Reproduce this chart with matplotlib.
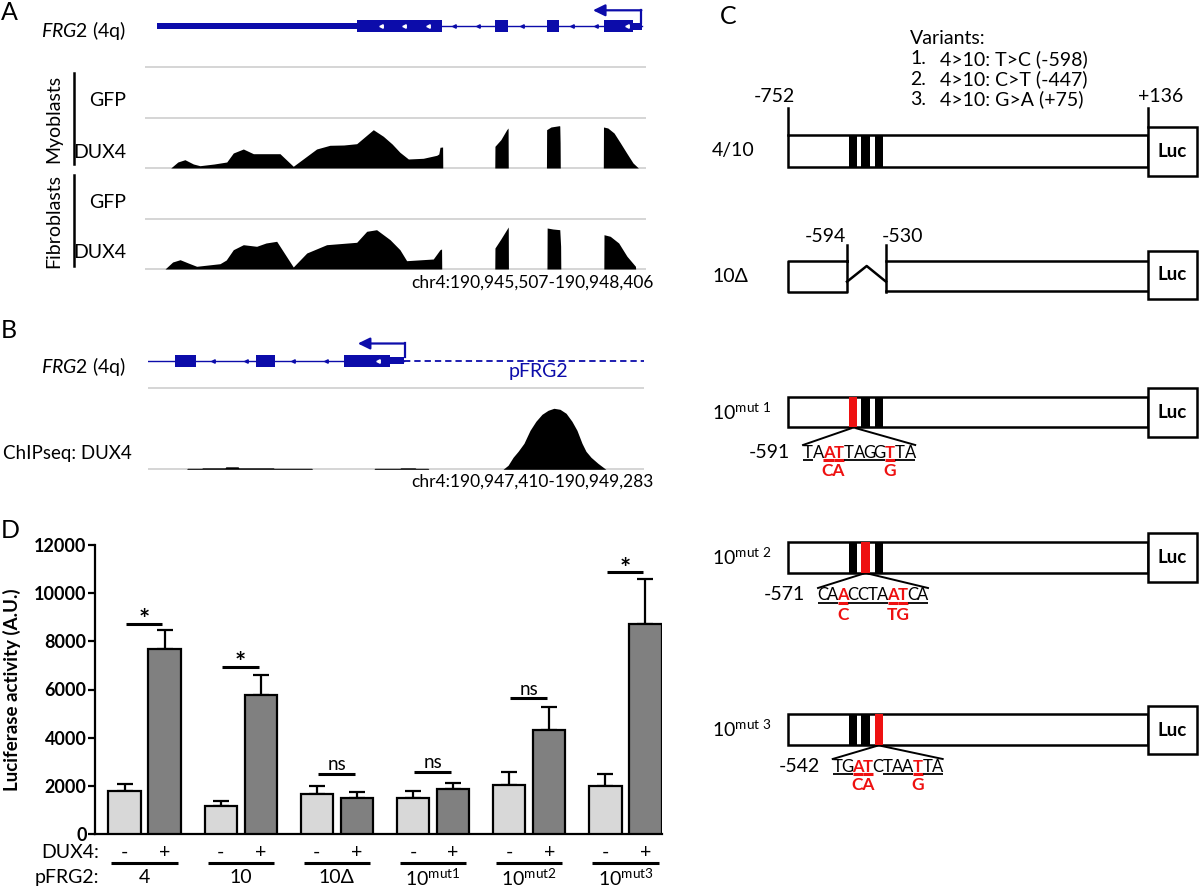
import numpy as np
import matplotlib
matplotlib.use("Agg")
import matplotlib.pyplot as plt
from matplotlib.patches import Rectangle

plt.rcParams['font.family'] = ['Lato', 'DejaVu Sans']
plt.rcParams['mathtext.fontset'] = 'custom'
plt.rcParams['mathtext.rm'] = 'Lato'
plt.rcParams['mathtext.it'] = 'Lato:italic'
plt.rcParams['mathtext.bf'] = 'Lato:bold'

# =========================
# DATA
# =========================

# panel A: FRG2 gene model, bp offsets inside chr4:190,945,507-190,948,406
a_region = 'chr4:190,945,507-190,948,406'
a_window = 2899
a_utr3 = (68, 1227)
a_exons = [(1227, 1718), (2025, 2100), (2326, 2395), (2656, 2824)]
a_utr5 = (2824, 2876)
a_tss = 2872
a_arrow_tip = 2592
a_intron_marks = [1788, 1927, 2181, 2471, 2607]
a_exon_marks = [1365, 1499, 1637, 2789]

# RNA-seq coverage, DUX4 samples (GFP samples are flat)
myo_x = [149, 190, 231, 280, 318, 400, 473, 511, 569, 627, 700, 781, 858, 936, 993,
         1070, 1150, 1225, 1321, 1379, 1430, 1475, 1524, 1610, 1688, 1700, 1707, 1722, 1723,
         2024, 2025, 2059, 2093, 2101, 2102,
         2323, 2324, 2349, 2397, 2400, 2402, 2403,
         2652, 2653, 2678, 2714, 2751, 2787, 2824, 2855]
myo_y = [0, 6, 8.3, 4, 2.3, 4, 6, 15, 19, 14.3, 14.3, 14.3, 1.7, 11.7, 19,
         22.7, 23, 24.3, 38.3, 31.7, 24, 15.7, 9, 9.7, 12.7, 14, 20.7, 21, 0,
         0, 21.7, 28.3, 38.3, 40, 0,
         0, 38.3, 41, 42.3, 42, 25, 0,
         0, 41, 40, 35, 25, 15, 5, 0]
fib_x = [116, 160, 203, 250, 299, 434, 470, 511, 569, 646, 700, 762, 858, 936, 1051,
         1225, 1283, 1340, 1418, 1475, 1514, 1668, 1707, 1716, 1717,
         2024, 2025, 2059, 2102, 2103,
         2326, 2327, 2360, 2400, 2405, 2406,
         2655, 2656, 2692, 2741, 2789, 2838, 2839]
fib_y = [0, 7, 9.3, 6, 2.7, 5.3, 9, 19.3, 24.3, 22.7, 26, 27.7, 2, 16, 24.3,
         26.7, 37.7, 39.3, 29.3, 19.3, 8.3, 10, 19.3, 20, 0,
         0, 21, 30, 42, 0,
         0, 41, 40, 39.3, 22.7, 0,
         0, 34.3, 32.7, 26, 12.7, 2.7, 0]

# panel B: FRG2 promoter region, bp offsets inside chr4:190,947,410-190,949,283
b_region = 'chr4:190,947,410-190,949,283'
b_window = 1873
b_exons = [(103, 181), (408, 480), (741, 915)]
b_utr5 = (915, 967)
b_tss = 970
b_arrow_tip = 793
b_intron_marks = [246, 370, 547, 673]
b_exon_marks = [870]

chip_x = [147, 150, 204, 207, 292, 295, 341, 344, 474, 477, 619, 622,
          854, 857, 952, 955, 1009, 1012, 1058, 1061,
          1341, 1360, 1379, 1398, 1420, 1443, 1465, 1488, 1511, 1533,
          1556, 1579, 1601, 1620, 1639, 1654, 1673, 1699, 1729]
chip_y = [0, 1, 1, 1.5, 1.5, 2.5, 2.5, 1.5, 1.5, 1, 1, 0,
          0, 1, 1, 1.5, 1.5, 1, 1, 0,
          0, 4, 12, 18, 26, 39, 48, 55, 59, 61,
          60, 56, 48, 39, 26, 18, 12, 6, 0]

# panel C: reporter constructs
variants = ['4>10: T>C (-598)', '4>10: C>T (-447)', '4>10: G>A (+75)']
construct_labels = ['4/10', '10Δ', r'10$^{\mathrm{mut\ 1}}$',
                    r'10$^{\mathrm{mut\ 2}}$', r'10$^{\mathrm{mut\ 3}}$']
mutated_site = [None, None, 0, 1, 2]
promoter_ends = ['-752', '+136']
deletion_ends = ['-594', '-530']
site_seqs = ['TAATTAGGTTA', 'CAACCTAATCA', 'TGATCTAATTA']
site_starts = ['-591', '-571', '-542']
site_red = [[2, 3, 8], [2, 7, 8], [2, 3, 8]]
site_no_line = [[1], [], [4]]
site_subs = [[('CA', 2.5), ('G', 8)], [('C', 2), ('TG', 7.5)], [('CA', 2.5), ('G', 8)]]

# panel D: luciferase assay
groups = ['4', '10', '10Δ', r'10$^{\mathrm{mut1}}$', r'10$^{\mathrm{mut2}}$', r'10$^{\mathrm{mut3}}$']
neg_mean = [1780, 1180, 1680, 1500, 2050, 2000]
neg_err = [290, 210, 300, 270, 510, 500]
pos_mean = [7700, 5780, 1480, 1870, 4330, 8700]
pos_err = [760, 830, 250, 240, 950, 1880]
sig = ['*', '*', 'ns', 'ns', 'ns', '*']
sig_y = [8720, 6950, 2490, 2570, 5640, 10860]

# =========================
# FIGURE
# =========================

W, H = 1200, 891
BLUE = '#0c0caa'
RED = '#ee1111'
GRID = '#d2d2d2'
FS = 14

fig = plt.figure(figsize=(12, 8.91), dpi=100)


def px_axes(x0, y0, x1, y1):
    ax = fig.add_axes([x0 / W, 1 - y1 / H, (x1 - x0) / W, (y1 - y0) / H])
    return ax


ax0 = px_axes(0, 0, W, H)
ax0.set_xlim(0, W)
ax0.set_ylim(H, 0)
ax0.axis('off')

for lab, x, y in [('A', 9, 12), ('B', 9, 331), ('C', 728, 16), ('D', 10, 531)]:
    ax0.text(x, y, lab, fontsize=18, ha='center', va='center')


def gene_model(ax, exons, utr5, tss, tip, intron_marks, exon_marks, top):
    ax.broken_barh([(s, e - s) for s, e in exons], (-6, 12), color=BLUE, lw=0)
    ax.broken_barh([(utr5[0], utr5[1] - utr5[0])], (-3.5, 7), color=BLUE, lw=0)
    ax.plot(intron_marks, [0] * len(intron_marks), ls='none', marker='<', ms=2.5, color=BLUE)
    ax.plot(exon_marks, [0] * len(exon_marks), ls='none', marker='<', ms=2.5, color='white')
    ax.plot([tss, tss], [-3.5, top], color=BLUE, lw=1.6, solid_capstyle='projecting')
    ax.annotate('', xy=(tip, top), xytext=(tss, top),
                arrowprops=dict(arrowstyle='-|>,head_length=0.45,head_width=0.22',
                                mutation_scale=16, color=BLUE, lw=1.6,
                                shrinkA=0, shrinkB=0))


# ---------- panel A ----------
ga = px_axes(145, 6.3, 646, 46.3)
ga.set_xlim(0, a_window)
ga.set_ylim(20, -20)
ga.axis('off')
ga.plot([a_exons[0][1], a_utr5[1]], [0, 0], color=BLUE, lw=1)
ga.broken_barh([(a_utr3[0], a_utr3[1] - a_utr3[0])], (-3, 6), color=BLUE, lw=0)
gene_model(ga, a_exons, a_utr5, a_tss, a_arrow_tip, a_intron_marks, a_exon_marks, -16)

ax0.hlines([67, 118, 168, 219, 269], 145, 646, color=GRID, lw=1.3)
for (y0, y1), xs, ys in [((118, 168), myo_x, myo_y), ((219, 269), fib_x, fib_y)]:
    tr = px_axes(145, y0, 646, y1)
    tr.set_xlim(0, a_window)
    tr.set_ylim(0, 50)
    tr.axis('off')
    tr.fill_between(xs, ys, color='black', lw=0)

ax0.text(126, 30, r'$\mathit{FRG2}$ (4q)', ha='right', va='center', fontsize=FS)
for lab, y in [('GFP', 101), ('DUX4', 152), ('GFP', 203), ('DUX4', 253)]:
    ax0.text(126, y, lab, ha='right', va='center', fontsize=FS)
for lab, (y0, y1) in [('Myoblasts', (73, 164)), ('Fibroblasts', (175, 266))]:
    ax0.plot([73.7, 73.7], [y0, y1], color='black', lw=1.8)
    ax0.text(54, (y0 + y1) / 2, lab, rotation=90, ha='center', va='center', fontsize=FS)
ax0.text(654, 283, a_region, ha='right', va='center', fontsize=12.5)

# ---------- panel B ----------
gb = px_axes(147.7, 341, 644, 381)
gb.set_xlim(0, b_window)
gb.set_ylim(20, -20)
gb.axis('off')
gb.plot([0, b_utr5[1]], [0, 0], color=BLUE, lw=1)
gb.plot([b_utr5[1], b_window], [0, 0], color=BLUE, lw=1.3, dashes=(3.5, 2.2))
gene_model(gb, b_exons, b_utr5, b_tss, b_arrow_tip, b_intron_marks, b_exon_marks, -17.5)
ax0.text(538, 371, 'pFRG2', color=BLUE, ha='center', va='center', fontsize=FS)

ax0.hlines([387.7, 469.3], 147.7, 644, color=GRID, lw=1.3)
cb = px_axes(147.7, 388, 644, 469.3)
cb.set_xlim(0, b_window)
cb.set_ylim(0, 81.3)
cb.axis('off')
cb.fill_between(chip_x, chip_y, color='black', lw=0)

ax0.text(126, 367, r'$\mathit{FRG2}$ (4q)', ha='right', va='center', fontsize=FS)
ax0.text(3, 453, 'ChIPseq: DUX4', ha='left', va='center', fontsize=13.5)
ax0.text(654, 482, b_region, ha='right', va='center', fontsize=12.5)

# ---------- panel C ----------
box_x0, box_x1, luc_x1 = 788, 1148, 1197
row_box = [(135, 166.7), (261, 292), (397, 427.3), (541.7, 572.7), (714, 745)]
row_luc = [(127, 176), (250.7, 299.3), (388, 437), (533, 582), (706, 754)]
site_x = [(849.3, 857.3), (861.3, 869.5), (874.5, 882.7)]
LW = 1.8

ax0.text(910, 38, 'Variants:', ha='left', va='center', fontsize=FS)
for k, v in enumerate(variants):
    ax0.text(910, 59 + 20.3 * k, f'{k + 1}.', ha='left', va='center', fontsize=FS)
    ax0.text(940, 59 + 20.3 * k, v, ha='left', va='center', fontsize=FS)

for i, lab in enumerate(construct_labels):
    yt, yb = row_box[i]
    lt, lb = row_luc[i]
    ax0.text(712, (yt + yb) / 2, lab, ha='left', va='center', fontsize=FS)
    ax0.add_patch(Rectangle((box_x1, lt), luc_x1 - box_x1, lb - lt, fc='white',
                            ec='black', lw=LW, zorder=3))
    ax0.text((box_x1 + luc_x1) / 2, (lt + lb) / 2, 'Luc', ha='center', va='center',
             fontsize=13.5, fontweight='bold', zorder=4)
    if i == 1:
        # deletion construct
        ax0.plot([847, 788, 788, 847, 847], [yt, yt, yb, yb, 245], color='black', lw=LW)
        ax0.plot([847, 866.7, 886], [281.7, 266, 281.7], color='black', lw=LW)
        ax0.plot([886, 886], [245, yb], color='black', lw=LW)
        ax0.plot([886, box_x1], [yt - 0.5, yt - 0.5], color='black', lw=LW)
        ax0.plot([886, box_x1], [yb - 1, yb - 1], color='black', lw=LW)
        ax0.text(846, 236.5, deletion_ends[0], ha='right', va='center', fontsize=FS)
        ax0.text(882, 236.5, deletion_ends[1], ha='left', va='center', fontsize=FS)
        continue
    ax0.add_patch(Rectangle((box_x0, yt), box_x1 - box_x0, yb - yt, fc='white',
                            ec='black', lw=LW, zorder=2))
    for j, (sx0, sx1) in enumerate(site_x):
        col = RED if mutated_site[i] == j else 'black'
        ax0.add_patch(Rectangle((sx0, yt), sx1 - sx0, yb - yt, fc=col, lw=0, zorder=3))
    if i == 0:
        ax0.plot([box_x0, box_x0], [108, yt], color='black', lw=LW)
        ax0.plot([box_x1, box_x1], [108, lt], color='black', lw=LW)
        ax0.text(774, 97, promoter_ends[0], ha='center', va='center', fontsize=FS)
        ax0.text(1161, 97, promoter_ends[1], ha='center', va='center', fontsize=FS)

# binding-site sequences under the mutant constructs
seq_x0 = [803, 818, 832.7]
seq_pitch = [10.2, 10.0, 10.0]
seq_y = [452, 595, 766]
for r in range(3):
    i = r + 2
    sx0, sx1 = site_x[mutated_site[i]]
    yb = row_box[i][1]
    x0, p, ty = seq_x0[r], seq_pitch[r], seq_y[r]
    n = len(site_seqs[r])
    ax0.plot([sx0 + 2, x0], [yb + 1, ty - 7], color='black', lw=1.4)
    ax0.plot([sx1 - 1, x0 + n * p], [yb + 1, ty - 7], color='black', lw=1.4)
    ax0.text(x0 - 13, ty, site_starts[r], ha='right', va='center', fontsize=FS)
    for k, ch in enumerate(site_seqs[r]):
        red = k in site_red[r]
        cx = x0 + (k + 0.5) * p
        ax0.text(cx, ty + 5.5, ch, ha='center', va='baseline', fontsize=12,
                 color=RED if red else 'black', fontweight='bold' if red else 'normal')
        if k not in site_no_line[r]:
            ax0.plot([x0 + k * p, x0 + (k + 1) * p], [ty + 7.5, ty + 7.5],
                     color=RED if red else 'black', lw=2.2 if red else 1.3,
                     solid_capstyle='butt')
    for txt, pos in site_subs[r]:
        ax0.text(x0 + (pos + 0.5) * p, ty + 24.5, txt, ha='center', va='baseline',
                 fontsize=12.5, fontweight='bold', color=RED)

# ---------- panel D ----------
ax = px_axes(95, 545, 662, 834)
x = np.arange(len(groups))
off, bw = 0.208, 0.337
n = len(groups)
ax.bar(x - off, neg_mean, bw, color='#d8d8d8', edgecolor='black', lw=1.6, zorder=3)
ax.bar(x + off, pos_mean, bw, color='#808080', edgecolor='black', lw=1.6, zorder=3)
ax.errorbar(x - off, neg_mean, yerr=[np.zeros(n), neg_err], fmt='none', ecolor='black',
            elinewidth=1.6, capsize=5.5, capthick=1.6, zorder=2)
ax.errorbar(x + off, pos_mean, yerr=[np.zeros(n), pos_err], fmt='none', ecolor='black',
            elinewidth=1.6, capsize=5.5, capthick=1.6, zorder=2)
ax.set_xlim(-0.515, 5.38)
ax.set_ylim(0, 12000)
ax.set_yticks(np.arange(0, 12001, 2000))
ax.set_xticks([])
for s in ['top', 'right']:
    ax.spines[s].set_visible(False)
for s in ['left', 'bottom']:
    ax.spines[s].set_linewidth(1.6)
ax.tick_params(axis='y', length=5, width=1.6, pad=1, labelsize=13)
plt.setp(ax.get_yticklabels(), fontweight='bold')
ax.set_ylabel('Luciferase activity (A.U.)', fontsize=13.5, fontweight='bold')
ax.yaxis.set_label_coords(-0.1305, 0.5)

for i in range(n):
    ax.plot([i - off + 0.012, i + off - 0.022], [sig_y[i]] * 2, color='black', lw=2.2,
            solid_capstyle='butt')
    if sig[i] == '*':
        ax.annotate('*', (i, sig_y[i]), xytext=(0, -3), textcoords='offset points',
                    ha='center', va='baseline', fontsize=19, fontweight='bold')
    else:
        ax.annotate('ns', (i, sig_y[i]), xytext=(0, 2.6), textcoords='offset points',
                    ha='center', va='baseline', fontsize=13.5)

xt = ax.get_xaxis_transform()
ax.text(-0.473, -0.0623, 'DUX4:', transform=xt, ha='right', va='center', fontsize=FS)
ax.text(-0.473, -0.1522, 'pFRG2:', transform=xt, ha='right', va='center', fontsize=FS)
for i in range(n):
    ax.text(i - off, -0.0623, '-', transform=xt, ha='center', va='center', fontsize=14)
    ax.text(i + off, -0.0623, '+', transform=xt, ha='center', va='center', fontsize=14)
    ax.plot([i - 0.345, i + 0.345], [-0.1003, -0.1003], transform=xt, clip_on=False,
            color='black', lw=2.2, solid_capstyle='butt')
    ax.text(i, -0.1522, groups[i], transform=xt, ha='center', va='center', fontsize=FS)

fig.savefig('out.png', dpi=100)
